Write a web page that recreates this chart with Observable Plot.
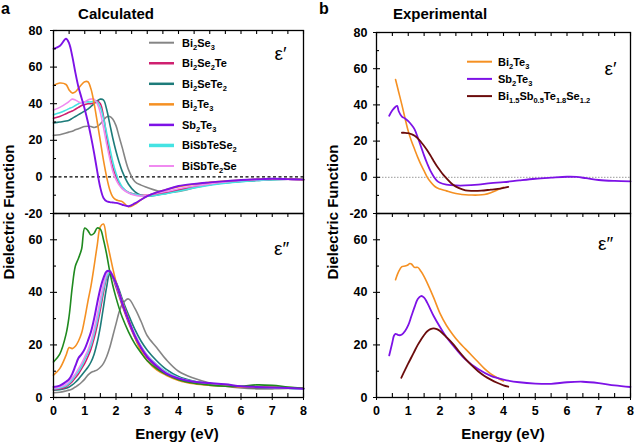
<!DOCTYPE html>
<html><head><meta charset="utf-8">
<script src="https://cdn.jsdelivr.net/npm/d3@7"></script>
<script src="https://cdn.jsdelivr.net/npm/@observablehq/plot@0.6"></script>
<style>
body{margin:0;background:#fff;}
#wrap{position:relative;width:635px;height:444px;overflow:hidden;font-family:"Liberation Sans",Arial,sans-serif;}
#wrap svg{position:absolute;}
</style></head><body><div id="wrap"></div>
<script>
// ---------- data ----------
const energyCalc = [0,0.2,0.4,0.5,0.6,0.7,0.8,0.9,1.0,1.1,1.2,1.3,1.4,1.5,1.6,1.7,1.8,1.9,2.0,2.1,2.2,2.4,2.6,2.8,3.0,3.3,3.6,4.0,4.5,5.0,5.5,6.0,6.5,7.0,7.5,8.0];

// calculated eps' (real part)
const reBi2Se3    = [22.7,23,24,24.5,25,25.7,26.3,27,27.5,27.7,27.5,27,27.5,29,31,32.8,33,31.5,28,22,16,4,-2.5,-4.5,-5.8,-7.5,-8.5,-8,-6,-4.3,-3.2,-2.3,-1.7,-1.2,-1.2,-1.5];
const reBi2Se2Te  = [32,33,34.5,35.3,36,37,38,39,39.5,40,40,40.5,41.5,40,33,22,12,5,0,-3.5,-6,-8.5,-9.5,-10,-10,-9.3,-8.5,-7,-5.3,-4,-3,-2.2,-1.7,-1.3,-1.2,-1.5];
const reBi2SeTe2  = [29.5,30,30.5,31,32,33,34,35,36,37,38.5,40,41.5,42.5,42,37,29,21,14,8,3,-4,-8,-10,-10.5,-10,-9,-7.5,-5.5,-4.2,-3.2,-2.5,-2,-1.5,-1.3,-1.5];
const reBi2Te3    = [50,51.3,50.5,47.5,45.8,46.5,48.5,50.5,52,52,48,40,30,19.5,9,0,-7,-11,-12.5,-13,-13.5,-16.3,-15,-12.5,-10.5,-8.5,-7,-5.3,-4,-3,-2.3,-1.7,-1.3,-1,-1.2,-1.5];
const reSb2Te3    = [70,71.5,75.5,73,66,57,49,43,37,30,22,13,3,-6,-11.5,-13.3,-13.8,-14,-14.2,-14.6,-15.2,-16,-14.5,-12.5,-10.5,-8.5,-7,-5,-3.8,-3,-2.3,-1.7,-1.3,-1,-1.2,-1.5];
const reBiSbTeSe2 = [34,35,36.5,37.3,38,39,40,40.5,41,41,41,41.5,41,38,32,24,16,8,2,-2.5,-5.5,-8.5,-9.5,-10,-10.5,-10,-9.2,-7.8,-6,-4.5,-3.4,-2.6,-2,-1.5,-1.3,-1.5];
const reBiSbTe2Se = [36.5,38,40,41.3,42.5,42,41,40.5,41,42,42.5,42.5,40,35,27,18,10,3,-1.5,-4.5,-6.5,-8.8,-10,-10.5,-10,-9,-8,-6.5,-5,-3.8,-2.8,-2,-1.5,-1.2,-1.4,-1.7];

// calculated eps'' (imaginary part)
const imBi2Se3    = [1.8,2,2.5,2.8,3.2,4,4.8,5.8,7,8.5,9.5,10,10.5,11.5,13,15.5,19,23.5,28,32.5,35.5,37.5,34,29,23.5,19,14.5,10,7.3,5.5,4.3,3.6,3.3,3.3,3.4,3.5];
const imBi2Se2Te  = [3,3.3,4,5,6,7.5,9,11,13,15.5,18.5,22.5,27.5,33.5,40,45.5,47.5,45.5,42,38.5,35,28.5,23,18.5,15,11.5,9,7,5.8,5,4.5,4,3.8,3.7,3.6,3.4];
const imBi2SeTe2  = [2.8,3,3.5,4,4.8,5.8,7,8.5,10,11.5,13.5,16.5,21,27,34.5,42,47,46.5,44,41,37.5,31.5,26,21.5,18,14,10.8,8,6.2,5.2,4.5,4,3.7,3.6,3.5,3.4];
const imBi2Te3    = [8.5,11,16,19,18.6,19.5,21.5,24.5,30,36.5,42.5,50,58,65,66,60,54.5,49,44,40,36.5,30,23,17.5,14,10.5,8.5,6.5,5.2,4.6,4.3,4,4,4,3.8,3.5];
const imSb2Te3    = [4,4.5,6,7,9,12,15,16.5,18.5,21.5,25,30,36,41.5,45.5,48,48,46,43.5,40,36,29.5,23.5,19,15.5,12,9.2,7.2,6,5.5,5,4.3,4,3.8,3.6,3.3];
const imBiSbTeSe2 = [3.3,3.7,4.5,5.5,6.8,8.5,10,12,14.5,17,20,24.5,29.5,35.5,41.5,46,47.5,46,43,39.5,36,29.5,24,19.5,16,12.5,9.8,7.5,6,5.2,4.7,4.2,4,3.8,3.6,3.4];
const imBiSbTe2Se = [3.5,4,5,6,7.5,9,11,13,15.5,18,21.5,26,31.5,37.5,43,47,48.3,46.5,43.5,40,36.5,29.5,24,19.5,16,12.3,9.5,7.4,6,5.3,4.7,4.2,4,3.8,3.6,3.4];
const imGreen     = [13.5,16.5,24,31,42,50,53,56.5,64.5,63.5,61.8,62.5,64.5,64,60,54.5,48,42.5,38,34,30.5,25,20.5,17,14,11,8.8,6.8,5.4,4.7,4.3,4.3,4.8,4.6,4,3.5];

// experimental
const expReBi2Te3_E = [0.6,0.7,0.8,0.9,1.0,1.1,1.2,1.3,1.4,1.5,1.6,1.7,1.8,1.9,2.0,2.2,2.4,2.6,2.8,3.0,3.2,3.4,3.6,3.8,4.0];
const expReBi2Te3   = [54,47,40,32.5,25.5,20,15.5,11,7,3.5,0,-2.5,-4.5,-5.8,-6.5,-7.5,-8.5,-9.2,-9.6,-9.8,-9.8,-9.5,-8.5,-7,-5.5];
const expImBi2Te3_E = [0.6,0.7,0.8,0.9,1.0,1.05,1.1,1.2,1.3,1.4,1.5,1.6,1.8,2.0,2.2,2.4,2.6,2.8,3.0,3.2,3.4,3.6,3.8,4.0];
const expImBi2Te3   = [44.8,48,49.8,50,50.5,51,50.8,49.5,49.5,48,46,43.5,38,32,27.5,24,21,18.5,16,13.5,11,9,7.5,6.3];
const expReSb2Te3_E = [0.4,0.5,0.6,0.65,0.7,0.8,0.9,1.0,1.1,1.2,1.3,1.4,1.5,1.6,1.7,1.8,1.9,2.0,2.2,2.5,2.8,3.2,3.6,4.0,4.5,5.0,5.5,6.0,6.3,6.6,7.0,7.5,8.0];
const expReSb2Te3   = [34,37,39,39.5,36.5,33.5,32.5,31,29,26.5,22,17,12,7.5,3.5,0.5,-1.8,-3,-4,-4.5,-4.5,-4,-3.2,-2.7,-1.7,-0.8,-0.2,0.3,0.2,-0.5,-1.5,-2,-2.2];
const expImSb2Te3_E = [0.4,0.5,0.55,0.6,0.65,0.7,0.8,0.9,1.0,1.1,1.2,1.3,1.4,1.5,1.6,1.8,2.0,2.2,2.5,2.8,3.2,3.6,4.0,4.5,5.0,5.5,6.0,6.5,7.0,7.5,8.0];
const expImSb2Te3   = [16,21,23.5,24.2,24,23.7,24,25.3,27.5,31,34.5,37.5,38.6,38,36,31,26.8,23,18.5,14.5,10.8,8.2,6.8,5.8,5.3,5.2,5.8,6,5.5,4.6,4];
const expReBSTS_E   = [0.8,0.9,1.0,1.1,1.2,1.3,1.4,1.5,1.6,1.7,1.8,1.9,2.0,2.1,2.2,2.4,2.6,2.8,3.0,3.3,3.6,3.9,4.15];
const expReBSTS     = [24.6,24.6,24.4,23.8,23,21.5,19.5,17.3,14.8,12,9,6.2,3.8,1.5,-0.5,-4,-6,-7.2,-7.5,-7.4,-6.8,-6.2,-5.3];
const expImBSTS_E   = [0.78,0.9,1.0,1.1,1.2,1.3,1.4,1.5,1.6,1.7,1.8,1.9,2.0,2.2,2.4,2.6,2.8,3.0,3.2,3.4,3.6,3.8,4.0,4.15];
const expImBSTS     = [7.5,10.5,13,15.3,17.7,20,22,23.8,25.2,26,26.3,26,25.3,23,20.5,17.5,14.7,12.2,10,8.2,6.8,5.6,4.6,4.1];

// labels, colours
const calcLabels = ["Bi_{2}Se_{3}","Bi_{2}Se_{2}Te","Bi_{2}SeTe_{2}","Bi_{2}Te_{3}","Sb_{2}Te_{3}","BiSbTeSe_{2}","BiSbTe_{2}Se"];
const calcColors = ["#858585","#cf2070","#1d7b7a","#f59022","#7d12e6","#45e3e3","#f08af0"];
const expLabels  = ["Bi_{2}Te_{3}","Sb_{2}Te_{3}","Bi_{1.5}Sb_{0.5}Te_{1.8}Se_{1.2}"];
const expColors  = ["#f59022","#7d12e6","#6b0c0c"];
const greenColor = "#1f8a1f";
const xTickLabels = [0,1,2,3,4,5,6,7,8];
const reTickLabels = [-20,0,20,40,60,80];
const imTickLabels = [0,20,40,60];

// ---------- drawing ----------
const wrap = document.getElementById("wrap");
const xMinor = d3.range(0, 8.01, 0.5);

function panel(o) {
  const plotW = o.width - o.ml - o.mr, plotH = o.height - o.mt - o.mb;
  const marks = [];
  if (o.zero) marks.push(Plot.ruleY([0], o.zero));
  for (const s of o.series) {
    marks.push(Plot.line(s.x, {x: s.x, y: s.y, stroke: s.color, strokeWidth: s.w || 1.6, curve: "catmull-rom"}));
  }
  // inward ticks
  marks.push(Plot.tickY(o.yLabels, {y: d => d, insetRight: plotW - 4, stroke: "black", strokeWidth: 1.1}));
  marks.push(Plot.tickY(o.yMinor, {y: d => d, insetRight: plotW - 3, stroke: "black", strokeWidth: 1.1}));
  marks.push(Plot.tickX(xMinor, {x: d => d, insetBottom: plotH - 4, stroke: "black", strokeWidth: 1.1}));
  if (o.bottom) marks.push(Plot.tickX(xMinor, {x: d => d, insetTop: plotH - 4, stroke: "black", strokeWidth: 1.1}));
  marks.push(Plot.text([o.eps], {text: d => d, frameAnchor: "top-right", dx: o.epsDx, dy: o.epsDy, textAnchor: "middle", lineAnchor: "middle", fontSize: 19, fontWeight: "normal", fill: "black"}));
  marks.push(Plot.frame({stroke: "black", strokeWidth: 1.3}));
  const svg = Plot.plot({
    width: o.width, height: o.height,
    marginTop: o.mt, marginBottom: o.mb, marginLeft: o.ml, marginRight: o.mr,
    style: {fontFamily: "'Liberation Sans', Arial, sans-serif", fontSize: "12.5px", fontWeight: "bold", background: "transparent", overflow: "visible", color: "black"},
    x: o.bottom
      ? {domain: [0, 8], ticks: xTickLabels, tickSize: 3, tickPadding: 6, tickFormat: d => String(d), label: null}
      : {domain: [0, 8], axis: null},
    y: {domain: o.yDomain, ticks: o.yLabels, tickSize: 3, tickPadding: o.tickPad, tickFormat: d => String(d), label: null},
    marks
  });
  svg.style.position = "absolute";
  svg.style.left = o.left + "px";
  svg.style.top = o.top + "px";
  wrap.appendChild(svg);
}

const reMinor = [-10, 10, 30, 50, 70];
const imMinor = [10, 30, 50];

const calcRe = [reBi2Se3, reBi2Se2Te, reBi2SeTe2, reBi2Te3, reSb2Te3, reBiSbTeSe2, reBiSbTe2Se];
const calcIm = [imBi2Se3, imBi2Se2Te, imBi2SeTe2, imBi2Te3, imSb2Te3, imBiSbTeSe2, imBiSbTe2Se];
const drawOrder = [0, 2, 1, 5, 6, 3, 4];

// a: calculated eps'
panel({left: 0, top: 0, width: 320, height: 214, mt: 30, mb: 1, ml: 53, mr: 17, tickPad: 8,
  yDomain: [-20, 80], yLabels: reTickLabels, yMinor: reMinor,
  zero: {stroke: "black", strokeWidth: 1.2, strokeDasharray: "3,2.5"},
  series: drawOrder.map(i => ({x: energyCalc, y: calcRe[i], color: calcColors[i], w: i === 4 ? 1.9 : 1.6})),
  eps: "ε′", epsDx: -23, epsDy: 23});

// a: calculated eps''
panel({left: 0, top: 212, width: 320, height: 232, mt: 1, mb: 47, ml: 53, mr: 17, tickPad: 8, bottom: true,
  yDomain: [0, 70], yLabels: imTickLabels, yMinor: imMinor,
  series: [
    ...[0, 2, 1, 5, 6].map(i => ({x: energyCalc, y: calcIm[i], color: calcColors[i], w: i === 5 ? 1.8 : 1.6})),
    {x: energyCalc, y: imBi2Te3, color: calcColors[3], w: 1.6},
    {x: energyCalc, y: imGreen, color: greenColor, w: 1.6},
    {x: energyCalc, y: imSb2Te3, color: calcColors[4], w: 2}
  ],
  eps: "ε″", epsDx: -22, epsDy: 35});

// b: experimental eps'
panel({left: 320, top: 0, width: 315, height: 214, mt: 32, mb: 1, ml: 56, mr: 5, tickPad: 6,
  yDomain: [-20, 80], yLabels: reTickLabels, yMinor: reMinor,
  zero: {stroke: "#9a9a9a", strokeWidth: 1, strokeDasharray: "1.5,1.5"},
  series: [
    {x: expReBi2Te3_E, y: expReBi2Te3, color: expColors[0]},
    {x: expReSb2Te3_E, y: expReSb2Te3, color: expColors[1], w: 1.8},
    {x: expReBSTS_E, y: expReBSTS, color: expColors[2], w: 1.8}
  ],
  eps: "ε′", epsDx: -20, epsDy: 36});

// b: experimental eps''
panel({left: 320, top: 212, width: 315, height: 232, mt: 1, mb: 47, ml: 56, mr: 5, tickPad: 6, bottom: true,
  yDomain: [0, 70], yLabels: imTickLabels, yMinor: imMinor,
  series: [
    {x: expImBi2Te3_E, y: expImBi2Te3, color: expColors[0]},
    {x: expImSb2Te3_E, y: expImSb2Te3, color: expColors[1], w: 1.8},
    {x: expImBSTS_E, y: expImBSTS, color: expColors[2], w: 1.8}
  ],
  eps: "ε″", epsDx: -25, epsDy: 30});

// ---------- overlay texts & legends ----------
const ov = d3.select(wrap).append("svg")
  .attr("width", 635).attr("height", 444)
  .style("left", "0px").style("top", "0px")
  .attr("font-family", "'Liberation Sans', Arial, sans-serif")
  .attr("font-weight", "bold");

function txt(x, y, s, size, anchor = "middle", rot = 0) {
  const t = ov.append("text").attr("x", x).attr("y", y).attr("font-size", size)
    .attr("text-anchor", anchor).text(s);
  if (rot) t.attr("transform", `rotate(${rot},${x},${y})`);
  return t;
}
txt(1, 14, "a", 16, "start");
txt(116, 18.5, "Calculated", 15);
txt(319, 14, "b", 16, "start");
txt(440, 18.5, "Experimental", 15);
txt(177, 439, "Energy (eV)", 15);
txt(503, 439, "Energy (eV)", 15);
txt(13.5, 212, "Dielectric Function", 15, "middle", -90);
txt(338, 212, "Dielectric Function", 15, "middle", -90);

function richLabel(x, y, label, size) {
  const t = ov.append("text").attr("x", x).attr("y", y).attr("font-size", size);
  const parts = label.split(/(_\{[^}]*\})/).filter(p => p.length);
  let shifted = false;
  for (const p of parts) {
    if (p.startsWith("_{")) {
      t.append("tspan").attr("font-size", size * 0.68).attr("dy", shifted ? 0 : 3).text(p.slice(2, -1));
      shifted = true;
    } else {
      t.append("tspan").attr("dy", shifted ? -3 : 0).text(p);
      shifted = false;
    }
  }
}
const calcLegW = [2, 2.5, 2.5, 2.5, 2.5, 3.5, 2];
calcLabels.forEach((lab, i) => {
  const y = 42.7 + i * 20.55;
  ov.append("line").attr("x1", 149).attr("x2", 174).attr("y1", y).attr("y2", y)
    .attr("stroke", calcColors[i]).attr("stroke-width", calcLegW[i]);
  richLabel(182, y + 4, lab, 11);
});
expLabels.forEach((lab, i) => {
  const y = 61.7 + i * 17.2;
  ov.append("line").attr("x1", 467).attr("x2", 492).attr("y1", y).attr("y2", y)
    .attr("stroke", expColors[i]).attr("stroke-width", 2);
  richLabel(498, y + 4, lab, 11);
});
</script></body></html>
